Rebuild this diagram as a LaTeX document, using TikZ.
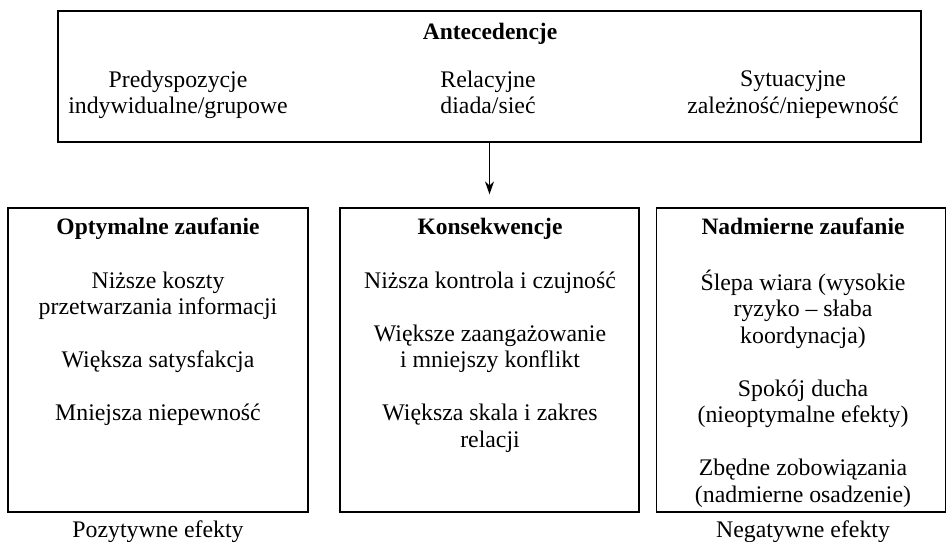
\documentclass[tikz,border=0pt]{standalone}
\usepackage{fontspec}
\setmainfont{Liberation Serif}
\usetikzlibrary{arrows.meta,calc}

\tikzset{
  frame/.style={draw, line width=1.3pt, inner sep=0pt},
  txt/.style={align=center, inner sep=0pt, font=\fontsize{23.8}{26.5}\selectfont,
    execute at begin node=\strut, execute at end node=\strut},
  head/.style={txt, font=\fontsize{23.5}{26.5}\selectfont\bfseries},
  link/.style={line width=1.2pt, -{Stealth[length=13pt,width=9pt]}}
}

\begin{document}
\begin{tikzpicture}[x=1pt,y=-1pt]
\useasboundingbox (0,0) rectangle (947,541);

% frames
\node[frame, minimum width=863pt, minimum height=131pt] (ante) at (489.5,76.5) {};
\node[frame, minimum width=300pt, minimum height=304pt] (opt)  at (158,360) {};
\node[frame, minimum width=299pt, minimum height=304pt] (kons) at (489.5,360) {};
\node[frame, minimum width=289pt, minimum height=304pt] (nad)  at (801,360) {};

% antecedents
\node[head] (anteT) at (490,34) {Antecedencje};
\node[txt] (predy) at (178,96) {Predyspozycje\\indywidualne/grupowe};
\node[txt] (rel)   at (488,96) {Relacyjne\\diada/sieć};
\node[txt] (syt)   at (793,96) {Sytuacyjne\\zależność/niepewność};

% optimal trust
\node[head] (optT) at (158,229.5) {Optymalne zaufanie};
\node[txt] (optB) at (158,350) {Niższe koszty\\przetwarzania informacji\\[26.5pt]
  Większa satysfakcja\\[26.5pt]Mniejsza niepewność};

% consequences
\node[head] (konsT) at (490,229.5) {Konsekwencje};
\node[txt] (konsB) at (490,363.5) {Niższa kontrola i czujność\\[26.5pt]
  Większe zaangażowanie\\i mniejszy konflikt\\[26.5pt]
  Większa skala i zakres\\relacji};

% excessive trust
\node[head] (nadT) at (803,229.5) {Nadmierne zaufanie};
\node[txt] (nadB) at (803,390) {Ślepa wiara (wysokie\\ryzyko – słaba\\koordynacja)\\[26.5pt]
  Spokój ducha\\(nieoptymalne efekty)\\[26.5pt]
  Zbędne zobowiązania\\(nadmierne osadzenie)};

% captions below the side frames
\node[font=\fontsize{23.8}{26.5}\selectfont, inner sep=0pt, anchor=base] (poz) at (158,537) {Pozytywne efekty};
\node[font=\fontsize{23.8}{26.5}\selectfont, inner sep=0pt, anchor=base] (neg) at (803,537) {Negatywne efekty};

% arrow
\coordinate (tip) at ($(kons.north)+(0,-13)$);
\draw[link] (ante.south -| tip) -- (tip);
\end{tikzpicture}
\end{document}
